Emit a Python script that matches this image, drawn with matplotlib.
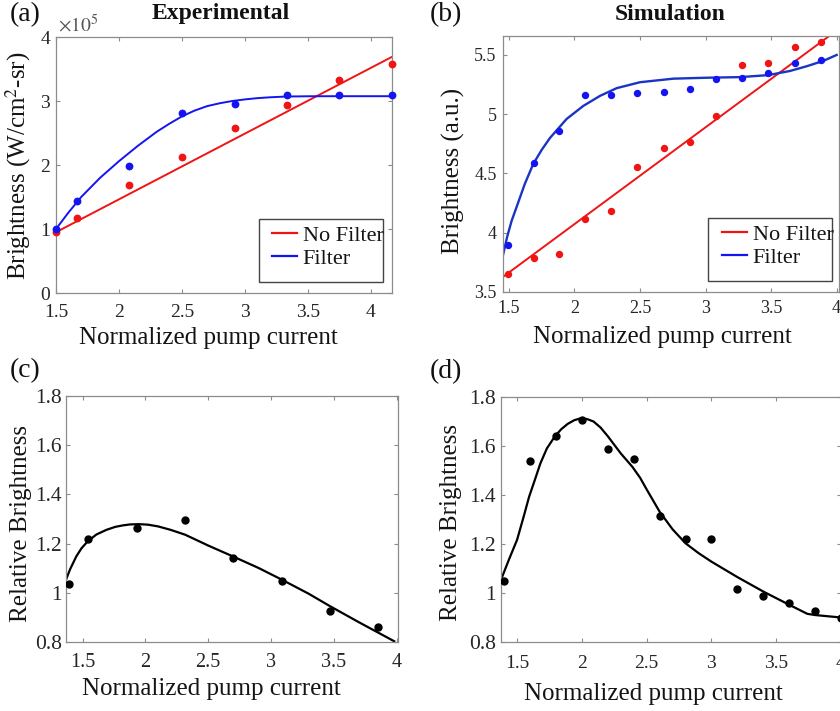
import matplotlib
matplotlib.use("Agg")
import matplotlib.pyplot as plt
from matplotlib.patches import Rectangle
from matplotlib.lines import Line2D

plt.rcParams['font.family'] = ['Liberation Serif', 'DejaVu Serif']
plt.rcParams['mathtext.fontset'] = 'stix'

# ---------------- data ----------------
# (a) Experimental (brightness in units of 1e5 W/cm^2-sr)
a_x = [1.5, 1.667, 2.083, 2.5, 2.917, 3.333, 3.75, 4.167]
a_nofilter = [0.96, 1.17, 1.69, 2.13, 2.58, 2.93, 3.33, 3.58]
a_filter = [1.0, 1.43, 1.98, 2.81, 2.95, 3.09, 3.09, 3.09]
a_fit_nf_x = [1.5, 4.167]
a_fit_nf_y = [0.95, 3.69]
a_fit_f_x = [1.5, 1.6, 1.7, 1.85, 2.0, 2.15, 2.3, 2.4, 2.5, 2.6, 2.7, 2.8, 2.9, 3.0,
             3.1, 3.2, 3.33, 3.5, 3.75, 4.167]
a_fit_f_y = [1.0, 1.26, 1.50, 1.80, 2.06, 2.30, 2.52, 2.645, 2.76, 2.85, 2.92, 2.965, 3.00, 3.025,
             3.045, 3.058, 3.07, 3.074, 3.075, 3.075]

# (b) Simulation
b_x = [1.49, 1.69, 1.88, 2.08, 2.28, 2.48, 2.68, 2.88, 3.08, 3.28, 3.48, 3.68, 3.88]
b_nofilter = [3.652, 3.787, 3.82, 4.116, 4.186, 4.557, 4.713, 4.764, 4.983, 5.413, 5.432, 5.568, 5.608]
b_filter = [3.894, 4.586, 4.861, 5.16, 5.16, 5.18, 5.184, 5.213, 5.30, 5.306, 5.348, 5.43, 5.46]
b_fit_nf_x = [1.456, 3.937]
b_fit_nf_y = [3.629, 5.654]
b_fit_f_x = [1.452, 1.487, 1.52, 1.559, 1.62, 1.685, 1.75, 1.813, 1.94, 2.067, 2.195, 2.322, 2.5,
             2.754, 3.009, 3.263, 3.479, 3.645, 3.773, 3.899, 4.001]
b_fit_f_y = [3.80, 3.97, 4.10, 4.22, 4.41, 4.58, 4.70, 4.80, 4.96, 5.07, 5.155, 5.22, 5.27,
             5.30, 5.308, 5.313, 5.33, 5.365, 5.405, 5.45, 5.50]

# (c) Relative brightness, experimental
c_x = [1.39, 1.543, 1.93, 2.317, 2.696, 3.087, 3.471, 3.854]
c_y = [1.035, 1.219, 1.265, 1.297, 1.141, 1.05, 0.927, 0.861]
c_fit_x = [1.368, 1.40, 1.45, 1.49, 1.54, 1.61, 1.69, 1.76, 1.82, 1.88, 1.95, 2.02, 2.1, 2.2,
           2.317, 2.5, 2.696, 2.9, 3.087, 3.3, 3.471, 3.7, 3.98]
c_fit_y = [1.053, 1.095, 1.148, 1.18, 1.209, 1.237, 1.256, 1.268, 1.274, 1.278, 1.279, 1.277,
           1.27, 1.256, 1.236, 1.192, 1.148, 1.101, 1.053, 0.996, 0.945, 0.88, 0.803]

# (d) Relative brightness, simulation
d_x = [1.4, 1.6, 1.8, 2.0, 2.2, 2.4, 2.6, 2.8, 3.0, 3.2, 3.4, 3.6, 3.8, 4.0]
d_y = [1.047, 1.538, 1.64, 1.705, 1.586, 1.545, 1.316, 1.219, 1.219, 1.017, 0.986, 0.96, 0.925, 0.90]
d_fit_x = [1.376, 1.44, 1.5, 1.55, 1.593, 1.64, 1.68, 1.73, 1.79, 1.84, 1.89, 1.94, 1.99, 2.04,
           2.09, 2.145, 2.2, 2.25, 2.3, 2.39, 2.45, 2.5, 2.6, 2.7, 2.8, 2.9, 3.0, 3.2, 3.4,
           3.6, 3.74, 3.8, 3.9, 4.0]
d_fit_y = [1.054, 1.14, 1.217, 1.31, 1.393, 1.466, 1.529, 1.59, 1.638, 1.668, 1.69, 1.705,
           1.713, 1.71, 1.70, 1.675, 1.64, 1.605, 1.57, 1.515, 1.47, 1.423, 1.332, 1.26,
           1.203, 1.163, 1.128, 1.065, 1.006, 0.952, 0.915, 0.91, 0.905, 0.90]

x_ticks = [1.5, 2, 2.5, 3, 3.5, 4]
x_ticklabels = ['1.5', '2', '2.5', '3', '3.5', '4']
a_yticks = [0, 1, 2, 3, 4]
b_yticks = [3.5, 4, 4.5, 5, 5.5]
cd_yticks = [0.8, 1.0, 1.2, 1.4, 1.6, 1.8]
cd_yticklabels = ['0.8', '1', '1.2', '1.4', '1.6', '1.8']
legend_labels = ['No Filter', 'Filter']

# ---------------- style ----------------
W, H = 840, 711
RED = '#F01414'
BLUE = '#1414F0'
BLUE_LINE_B = '#1a34c4'
SPINE = '#8c8c8c'
TICKC = '#262626'
LABC = '#141414'

fig = plt.figure(figsize=(W / 100, H / 100), dpi=100)


def px_axes(l, t, r, b):
    return fig.add_axes([l / W, 1 - b / H, (r - l) / W, (b - t) / H])


def style(ax, xfs, yfs, xpad, ypad, right=True):
    for s in ax.spines.values():
        s.set_color(SPINE)
        s.set_linewidth(0.9)
    ax.tick_params(direction='in', length=3, width=0.8, color=SPINE,
                   top=True, right=right, labelcolor=TICKC)
    ax.tick_params(axis='x', labelsize=xfs, pad=xpad)
    ax.tick_params(axis='y', labelsize=yfs, pad=ypad)


def legend_box(ax, l, t, r, b, tx, ty):
    handles = [Line2D([], [], color=RED, lw=1.6), Line2D([], [], color=BLUE, lw=1.6)]
    rect = Rectangle((l / W, 1 - b / H), (r - l) / W, (b - t) / H,
                     transform=fig.transFigure, facecolor='white',
                     edgecolor='#444444', lw=1.0, zorder=5, clip_on=False)
    ax.add_artist(rect)
    leg = ax.legend(handles, legend_labels, loc='upper left',
                    bbox_to_anchor=(tx / W, 1 - ty / H), bbox_transform=fig.transFigure,
                    frameon=False, fontsize=16, borderpad=0, handlelength=1.13,
                    handletextpad=0.27, labelspacing=0.12, borderaxespad=0)
    leg.set_zorder(6)
    for t_ in leg.get_texts():
        t_.set_color(LABC)
    return leg


# ---------------- (a) ----------------
axa = px_axes(56, 37, 392, 293)
axa.plot(a_fit_nf_x, a_fit_nf_y, color=RED, lw=1.4)
axa.plot(a_fit_f_x, a_fit_f_y, color=BLUE, lw=1.4)
axa.plot(a_x, a_nofilter, 'o', color=RED, ms=4.6, clip_on=False, zorder=4)
axa.plot(a_x, a_filter, 'o', color=BLUE, ms=4.6, clip_on=False, zorder=4)
axa.set_xlim(1.5, 4.167)
axa.set_ylim(0, 4)
axa.set_xticks(x_ticks, x_ticklabels)
axa.set_yticks(a_yticks, [str(v) for v in a_yticks])
style(axa, 14, 14, 8, 4.3)
axa.set_xlabel('Normalized pump current', fontsize=18, color=LABC)
axa.xaxis.set_label_coords(0.454, -0.133)
axa.set_ylabel('Brightness (W/cm$^2$-sr)', fontsize=18, color=LABC)
axa.yaxis.set_label_coords(-0.068, 0.496)
axa.text(0.5 - 0.009, 1.07, 'Experimental', transform=axa.transAxes, ha='center',
         va='baseline', fontsize=17, fontweight='bold', color='#111111')
fig.text(58 / W, 1 - 32 / H, r'$\times10^{5}$', fontsize=14, color='#555555',
         va='baseline', ha='left')
legend_box(axa, 259.3, 219, 383.3, 281.7, 271.7, 225)

# ---------------- (b) ----------------
axb = px_axes(502.7, 36, 839, 292)
axb.plot(b_fit_nf_x, b_fit_nf_y, color=RED, lw=1.4)
axb.plot(b_fit_f_x, b_fit_f_y, color=BLUE_LINE_B, lw=1.7)
axb.plot(b_x, b_nofilter, 'o', color=RED, ms=4.3, zorder=4)
axb.plot(b_x, b_filter, 'o', color=BLUE, ms=4.3, zorder=4)
axb.set_xlim(1.452, 4.019)
axb.set_ylim(3.5, 5.66)
axb.set_xticks(x_ticks, x_ticklabels)
axb.set_yticks(b_yticks, [str(v) for v in b_yticks])
style(axb, 13, 13, 6, 4.3, right=False)
axb.set_xlabel('Normalized pump current', fontsize=18, color=LABC)
axb.xaxis.set_label_coords(0.475, -0.133)
axb.set_ylabel('Brightness (a.u.)', fontsize=18, color=LABC)
axb.yaxis.set_label_coords(-0.112, 0.471)
axb.text(0.498, 1.0625, 'Simulation', transform=axb.transAxes, ha='center',
         va='baseline', fontsize=17, fontweight='bold', color='#111111')
legend_box(axb, 708.3, 218, 831.7, 281, 721.7, 224)

# ---------------- (c) ----------------
axc = px_axes(66, 396, 398, 642)
axc.plot(c_fit_x, c_fit_y, color='black', lw=1.6)
axc.plot(c_x, c_y, 'o', color='black', ms=5, zorder=4)
axc.set_xlim(1.368, 4.01)
axc.set_ylim(0.8, 1.8)
axc.set_xticks(x_ticks, x_ticklabels)
axc.set_yticks(cd_yticks, cd_yticklabels)
style(axc, 14.5, 15.5, 8, 3)
axc.set_xlabel('Normalized pump current', fontsize=18, color=LABC)
axc.xaxis.set_label_coords(0.439, -0.146)
axc.set_ylabel('Relative Brightness', fontsize=18, color=LABC)
axc.yaxis.set_label_coords(-0.103, 0.48)

# ---------------- (d) ----------------
axd = px_axes(501, 397, 841, 642)
axd.plot(d_fit_x, d_fit_y, color='black', lw=1.6)
axd.plot(d_x, d_y, 'o', color='black', ms=5, zorder=4)
axd.set_xlim(1.376, 4.0)
axd.set_ylim(0.8, 1.8)
axd.set_xticks(x_ticks, x_ticklabels)
axd.set_yticks(cd_yticks, cd_yticklabels)
style(axd, 14, 15.5, 9, 3.6)
axd.set_xlabel('Normalized pump current', fontsize=18, color=LABC)
axd.xaxis.set_label_coords(0.4485, -0.167)
axd.set_ylabel('Relative Brightness', fontsize=18, color=LABC)
axd.yaxis.set_label_coords(-0.115, 0.486)

# ---------------- panel labels ----------------
for lab, x, y in [('(a)', 10, 21), ('(b)', 430, 21), ('(c)', 10, 377), ('(d)', 430, 378)]:
    fig.text(x / W, 1 - y / H, lab, fontsize=20, color='#111111', ha='left', va='baseline')

fig.savefig('out.png', dpi=100)
